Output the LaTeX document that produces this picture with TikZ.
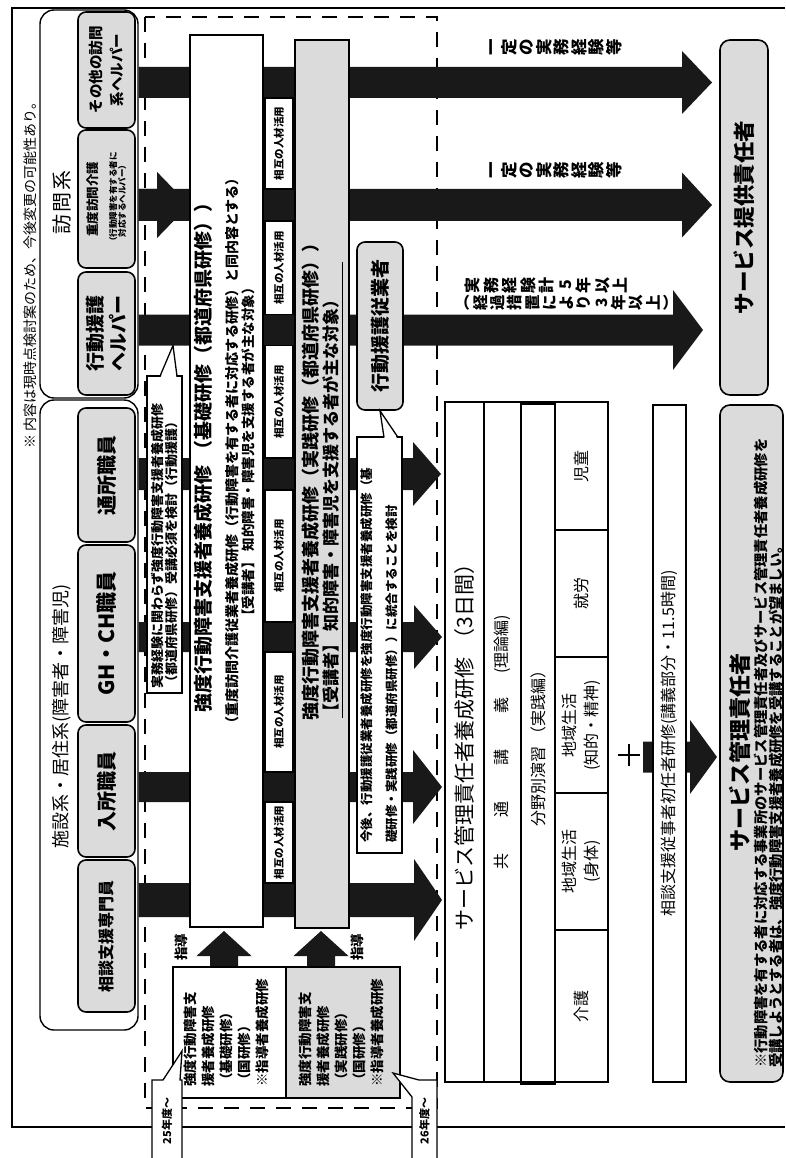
\documentclass[tikz,border=0pt]{standalone}
\usepackage{fontspec}
\setmainfont{Noto Sans CJK JP}
\usetikzlibrary{positioning,calc}

\definecolor{dotfill}{gray}{0.86}
\definecolor{bandfill}{gray}{0.10}

\newcommand\jfs[2]{\fontsize{#1}{#2}\selectfont}
% block arrow to the right: start, tip, half stem, half head, head length
\newcommand\blockarrow[5]{%
  \fill[bandfill] ($(#1)+(0,#3)$) -- ($(#2)+(-#5,#3)$) -- ($(#2)+(-#5,#4)$) -- (#2)
    -- ($(#2)+(-#5,-#4)$) -- ($(#2)+(-#5,-#3)$) -- ($(#1)+(0,-#3)$) -- cycle;}
% block arrow upwards: start, tip, half stem, half head, head length
\newcommand\upblock[5]{%
  \fill[bandfill] ($(#1)+(#3,0)$) -- ($(#2)+(#3,#5)$) -- ($(#2)+(#4,#5)$) -- (#2)
    -- ($(#2)+(-#4,#5)$) -- ($(#2)+(-#3,#5)$) -- ($(#1)+(-#3,0)$) -- cycle;}

\tikzset{
  rtxt/.style={rotate=90, inner sep=0pt, align=center},
  tatetxt/.style={rotate=90, inner sep=0pt, anchor=north, align=center},
  grpbox/.style={rotate=90, draw, line width=1.4pt, rounded corners=14pt, inner sep=0pt},
  ibox/.style={rotate=90, draw, line width=1.6pt, rounded corners=8pt, fill=dotfill,
    inner sep=0pt, align=center},
  kbox/.style={rotate=90, draw, line width=1.8pt, inner sep=0pt},
  sogo/.style={rotate=90, draw, line width=1.2pt, fill=white, inner sep=0pt,
    font=\bfseries\jfs{10.5}{12}},
  wbox/.style={rotate=90, draw, line width=1.3pt, fill=white, inner sep=0pt},
  tcell/.style={rotate=90, draw, line width=1.2pt, fill=white, inner sep=0pt, align=center},
  dashbox/.style={line width=2.6pt, dash pattern=on 15pt off 11pt},
  callout/.style={fill=white, draw, line width=1.3pt},
}

\begin{document}
\begin{tikzpicture}[x=1pt,y=-1pt]
\useasboundingbox (0,0) rectangle (785,1158);
\fill[white] (0,0) rectangle (785,1158);

% frame and memo
\draw[line width=1.3pt] (785,8) -- (12,8) -- (12,1127) -- (785,1127);
\node[rtxt, font=\jfs{14}{16}] (memo) at (30,272) {※ 内容は現時点検討案のため、今後変更の可能性あり。};

% staff groups
\node[grpbox, minimum width=388pt, minimum height=98pt] (grpV) at (89,204) {};
\node[grpbox, minimum width=630pt, minimum height=98pt] (grpS) at (89,715) {};
\node[rtxt, font=\jfs{20}{20}] (titV) at (62,203) {訪\hspace{2pt}問\hspace{2pt}系};
\node[rtxt, font=\jfs{18}{18}] (titS) at (62,716) {施設系・居住系(障害者・障害児)};

\node[ibox, minimum width=116pt, minimum height=57pt, font=\bfseries\jfs{14.5}{21}] (hv1) at (106.5,70) {その他の訪問\\系ヘルパー};
\node[ibox, minimum width=138pt, minimum height=57pt, font=\bfseries\jfs{12.5}{14}] (hv2) at (106.5,199) {重度訪問介護\\[5pt]\jfs{8.5}{10}（行動障害を有する者に\\[-5pt]\jfs{8.5}{10}対応するヘルパー）};
\node[ibox, minimum width=123pt, minimum height=57pt, font=\bfseries\jfs{19}{23}] (hv3) at (106.5,333.5) {行動援護\\ヘルパー};
\node[ibox, minimum width=134pt, minimum height=57pt, font=\bfseries\jfs{20}{20}] (hs1) at (106.5,475) {通所職員};
\node[ibox, minimum width=177pt, minimum height=57pt, font=\bfseries\jfs{21}{21}] (hs2) at (106.5,633.5) {GH・CH職員};
\node[ibox, minimum width=132pt, minimum height=57pt, font=\bfseries\jfs{20}{20}] (hs3) at (106.5,791) {入所職員};
\node[ibox, minimum width=152pt, minimum height=57pt, font=\bfseries\jfs{16}{16}] (hs4) at (106.5,936) {相談支援専門員};

% current training area
\draw[dashbox] (145,17) rectangle (437,1108);

% bands
\coordinate (rA) at (0,82.5);
\coordinate (rB) at (0,205);
\coordinate (rC) at (0,330);
\coordinate (rD) at (0,474);
\coordinate (rE) at (0,637);
\coordinate (rF) at (0,787);
\coordinate (rG) at (0,900);
\coordinate (sA) at (grpV.south |- rA);
\coordinate (sB) at (grpV.south |- rB);
\coordinate (sC) at (grpV.south |- rC);
\coordinate (sD) at (grpS.south |- rD);
\coordinate (sE) at (grpS.south |- rE);
\coordinate (sF) at (grpS.south |- rF);
\coordinate (sG) at (grpS.south |- rG);
\coordinate (tA) at (712,82.5);
\coordinate (tB) at (712,205);
\coordinate (tC) at (703,330);
\coordinate (tD) at (441,474);
\coordinate (tE) at (442,637);
\coordinate (tF) at (442,787);
\coordinate (tG) at (442,900);
\blockarrow{sA}{tA}{15.5}{31.5}{30}
\blockarrow{sB}{tB}{16}{32.5}{30}
\blockarrow{sC}{tC}{15.5}{40}{30}
\blockarrow{sD}{tD}{16}{32}{28}
\blockarrow{sE}{tE}{15}{32}{28}
\blockarrow{sF}{tF}{15}{37}{29}
\blockarrow{sG}{tG}{17}{41}{28}

% training boxes
\node[kbox, fill=white, minimum width=892pt, minimum height=73pt] (kiso) at (226.5,481) {};
\node[kbox, fill=dotfill, minimum width=888pt, minimum height=54pt] (jissen) at (322,484) {};
\coordinate (tB1) at (kiso.north |- rB);
\blockarrow{sB}{tB1}{16}{33}{32}

\node[rtxt, font=\bfseries\jfs{19}{19}] (kisoT) at (203,453) {強度行動障害支援者養成研修\hspace{6pt}（基礎研修（都道府県研修））};
\node[rtxt, font=\bfseries\jfs{14}{14}] (kisoS) at (232,451) {（重度訪問介護従業者養成研修（行動障害を有する者に対応する研修）と同内容とする）};
\node[rtxt, font=\bfseries\jfs{13.5}{13.5}] (kisoJ) at (248,452) {【受講者】\hspace{4pt}知的障害・障害児を支援する者が主な対象）};

\node[rtxt, anchor=west, font=\bfseries\jfs{18}{18}] (jisT) at (311,721) {強度行動障害支援者養成研修（実践研修（都道府県研修））};
\node[rtxt, anchor=west, font=\bfseries\jfs{17}{17}] (jisJ) at (331,721) {【受講者】\hspace{4pt}知的障害・障害児を支援する者が主な対象）};
\draw[line width=1pt] (342,262) -- (342,718);

\foreach \ya/\yb [count=\i] in {98/189, 221/314.5, 345.5/458, 490/622, 652/772, 802/883}
  \node[sogo, minimum width={\yb-\ya}, minimum height=28pt] (sogo\i) at (279,{(\ya+\yb)/2}) {相互の人材活用};

% behaviour support staff and notes
\node[ibox, minimum width=168pt, minimum height=46pt, font=\bfseries\jfs{19}{19}] (kj) at (380,326) {行動援護従業者};

\node[wbox, minimum width=416pt, minimum height=45pt] (kongo) at (379.5,645) {};
\fill[white] (384.5,439) -- (kj.west) -- (397.5,439) -- cycle;
\draw[line width=1.3pt] (384,437.4) -- (kj.west) -- (398,437.4);
\node[rtxt, anchor=west, align=left, font=\bfseries\jfs{12.5}{25}] (kongoT) at (379,843) {今後、行動援護従業者養成研修を強度行動障害支援者養成研修（基\\礎研修・実践研修（都道府県研修））に統合することを検討};

\node[wbox, minimum width=317pt, minimum height=35pt] (jk) at (164.5,534.5) {};
\coordinate (jkTip) at (173,345.5);
\fill[white] (160.5,377.5) -- (jkTip) -- (176.5,377.5) -- cycle;
\draw[line width=1.3pt] (160,376.2) -- (jkTip) -- (177,376.2);
\node[rtxt, anchor=west, align=left, font=\bfseries\jfs{13}{14}] (jkT) at (164.5,689) {実務経験に関わらず強度行動障害支援者養成研修\\（都道府県研修）受講必須を検討（行動援護）};

% national trainer courses
\coordinate (uL0) at (224,967);
\coordinate (uL1) at (224,931);
\coordinate (uR0) at (321,967);
\coordinate (uR1) at (321,931);
\upblock{uL0}{uL1}{14}{27.5}{25}
\upblock{uR0}{uR1}{14}{27.5}{25}
\node[rtxt, font=\bfseries\jfs{13.5}{13.5}] (sdL) at (181,947) {指導};
\node[rtxt, font=\bfseries\jfs{13.5}{13.5}] (sdR) at (357,947) {指導};

\node[wbox, minimum width=131pt, minimum height=113pt] (bL) at (229.5,1032.5) {};
\node[wbox, fill=dotfill, minimum width=131pt, minimum height=114pt] (bR) at (343,1032.5) {};
\node[rtxt, anchor=west, align=left, font=\bfseries\jfs{13.5}{18}] (bLT) at (226,1087) {強度行動障害支\\援者養成研修\\（基礎研修）\\（国研修）\\※指導者養成研修};
\node[rtxt, anchor=west, align=left, font=\bfseries\jfs{13.5}{18}] (bRT) at (341.5,1087) {強度行動障害支\\援者養成研修\\（実践研修）\\（国研修）\\※指導者養成研修};

\filldraw[callout] (152,1162) -- (152,1080) -- (163,1080) -- (182,1051) -- (180,1080) -- (182,1080) -- (182,1162);
\filldraw[callout] (437,1162) -- (437,1080) -- (419,1080) -- (393,1073) -- (412,1097) -- (412,1162);
\node[rtxt, font=\bfseries\jfs{11}{11}] (y25) at (167,1121) {25年度〜};
\node[rtxt, font=\bfseries\jfs{11}{11}] (y26) at (424.5,1121) {26年度〜};

% service manager course
\node[tcell, minimum width=680pt, minimum height=39pt, font=\jfs{21}{21}] (tTitle) at (464.5,742) {サービス管理責任者養成研修\hspace{8pt}（3日間）};
\node[tcell, minimum width=680pt, minimum height=37pt, font=\jfs{16}{16}] (tKyotsu) at (502.5,742) {共\hspace{36pt}通\hspace{36pt}講\hspace{36pt}義\hspace{24pt}(理論編)};
\node[tcell, minimum width=680pt, minimum height=34pt, font=\jfs{16}{16}] (tBunya) at (538,744) {分野別演習\hspace{4pt}（実践編）};
\foreach \ya/\yb/\txt [count=\i] in {402/530/児童, 530/657/就労, 657/793/{地域生活\\(知的・精神)}, 793/930/{地域生活\\(身体)}, 930/1082/介護}
  \node[tcell, minimum width={\yb-\ya}, minimum height=53pt, font=\jfs{16}{22}] (tCell\i) at (581.5,{(\ya+\yb)/2}) {\txt};
\draw[line width=2.4pt] (445,402) rectangle (608,1082);
\draw[line width=2.4pt] (484,402) -- (484,1082);

\draw[line width=2.6pt] (618,755) -- (640,755) (629,744) -- (629,766);
\coordinate (mS) at (643,757);
\coordinate (mT) at (717,757);
\blockarrow{mS}{mT}{15.5}{37}{27}
\node[tcell, minimum width=677pt, minimum height=33pt, font=\jfs{16}{16}] (soudan) at (669.5,743.5) {相談支援従事者初任者研修(講義部分・11.5時間)};

% responsible persons
\node[ibox, minimum width=677pt, minimum height=63pt, rounded corners=10pt] (sm) at (751.5,743.5) {};
\node[rtxt, font=\bfseries\jfs{22}{22}] (smT) at (740,752) {サービス管理責任者};
\node[rtxt, anchor=west, align=left, font=\bfseries\jfs{14.3}{15}] (smN) at (768.5,1068) {※行動障害を有する者に対応する事業所のサービス管理責任者及びサービス管理責任者養成研修を\\受講しようとする者は、強度行動障害支援者養成研修を受講することが望ましい。};
\node[ibox, minimum width=355pt, minimum height=48pt, rounded corners=10pt, font=\bfseries\jfs{21.5}{21.5}] (sp) at (744,217.5) {サービス提供責任者};

\node[tatetxt, font=\bfseries\jfs{16.5}{17.5}] (expA) at (490,47) {一\\定\\の\\実\\務\\経\\験\\等};
\node[tatetxt, font=\bfseries\jfs{16.5}{17.5}] (expB) at (490,170) {一\\定\\の\\実\\務\\経\\験\\等};
\node[tatetxt, font=\bfseries\jfs{16}{18.5}] (expC1) at (465,285) {実\\務\\経\\験\\計\\5\\年\\以\\上};
\node[tatetxt, font=\bfseries\jfs{15.5}{17.3}] (expC2) at (465,303) {︵\\経\\過\\措\\置\\に\\よ\\り\\3\\年\\以\\上\\︶};
\end{tikzpicture}
\end{document}
